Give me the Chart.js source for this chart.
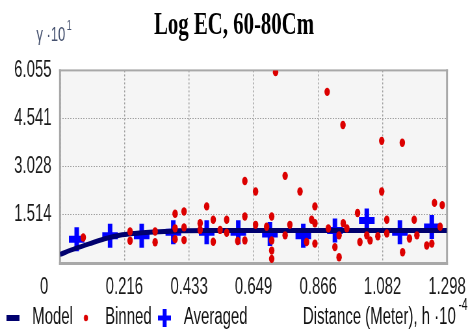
<!DOCTYPE html>
<html>
<head>
<meta charset="utf-8">
<script src="https://cdn.jsdelivr.net/npm/chart.js"></script>
<style>
  html, body { margin: 0; padding: 0; background: #fff; overflow: hidden; width: 468px; height: 331px; }
  /* the original picture is squeezed sideways, so draw wide and scale x */
  #wrap { width: 720px; height: 331px; transform: scale(0.65, 1); transform-origin: 0 0; }
</style>
</head>
<body>
<div id="wrap"><canvas id="chart"></canvas></div>
<script>
const xTicks = [0, 0.216, 0.433, 0.649, 0.866, 1.082, 1.298];
const xTickLabels = ["0", "0.216", "0.433", "0.649", "0.866", "1.082", "1.298"];
const yTicks = [0, 1.514, 3.028, 4.541, 6.055];
const yTickLabels = ["", "1.514", "3.028", "4.541", "6.055"];

const modelX = [0, 0.05, 0.1, 0.15, 0.2, 0.25, 0.3, 0.35, 0.4, 0.5, 0.65, 0.9, 1.298];
const modelY = [0.27, 0.45, 0.61, 0.76, 0.87, 0.93, 0.97, 0.99, 1.01, 1.02, 1.02, 1.02, 1.02];

const binnedX = [0.078, 0.235, 0.235, 0.319, 0.319, 0.386, 0.386, 0.386, 0.416, 0.416, 0.416,
  0.47, 0.47, 0.492, 0.514, 0.514, 0.537, 0.559, 0.559, 0.596, 0.62, 0.62, 0.62, 0.656, 0.656,
  0.693, 0.71, 0.71, 0.71, 0.71, 0.723, 0.755, 0.755, 0.771, 0.805, 0.827, 0.844, 0.855, 0.855,
  0.855, 0.896, 0.9, 0.922, 0.936, 0.936, 0.949, 0.95, 0.962, 0.998, 1.006, 1.029, 1.04, 1.066,
  1.079, 1.079, 1.096, 1.096, 1.148, 1.149, 1.172, 1.188, 1.197, 1.23, 1.247, 1.256, 1.275, 1.282];
const binnedY = [0.8, 0.99, 0.7, 0.99, 0.65, 1.55, 1.09, 0.75, 1.62, 1.12, 0.72,
  1.25, 1.04, 1.78, 1.36, 0.67, 1.04, 1.36, 0.95, 0.69, 2.58, 1.46, 0.71, 2.25, 1.2,
  1.14, 1.46, 0.71, 0.39, 0.13, 6.0, 2.74, 0.87, 1.2, 2.25, 0.66, 1.36, 1.78, 1.25,
  0.61, 5.38, 1.09, 0.5, 0.18, 0.87, 4.34, 1.25, 1.09, 1.57, 0.66, 0.87, 0.71, 0.84,
  3.84, 2.25, 1.36, 0.93, 3.78, 0.34, 0.77, 1.36, 0.87, 0.55, 0.61, 1.89, 1.14, 1.82];

const averagedX = [0.056, 0.168, 0.274, 0.38, 0.492, 0.598, 0.704, 0.816, 0.922, 1.029, 1.14, 1.247];
const averagedY = [0.75, 0.86, 0.86, 0.97, 0.97, 0.97, 0.91, 0.86, 1.02, 1.34, 0.97, 1.13];

const seriesNames = ["Model", "Binned", "Averaged"];

function toPoints(xs, ys) {
  return xs.map((x, i) => ({ x: x, y: ys[i] }));
}

// small pictures for the legend markers
function makeIcon(w, h, paint) {
  const c = document.createElement("canvas");
  c.width = w;
  c.height = h;
  paint(c.getContext("2d"), w, h);
  return c;
}
const legendIcons = [
  makeIcon(20, 6, (g, w, h) => { g.fillStyle = "#00006e"; g.fillRect(0, 0, w, h); }),
  makeIcon(8, 8, (g) => { g.fillStyle = "#dc0000"; g.beginPath(); g.arc(4, 4, 3.2, 0, Math.PI * 2); g.fill(); }),
  makeIcon(20, 18, (g) => { g.fillStyle = "#0000ff"; g.fillRect(7, 0, 6, 18); g.fillRect(0, 6.5, 20, 5); }),
];

const frameAndText = {
  id: "frameAndText",
  afterLayout(chart) {
    // legend shares its row with the x unit text, pin it there
    const lg = chart.legend;
    const dy = 304.5 - lg.top;
    lg.top += dy;
    lg.bottom += dy;
  },
  beforeDraw(chart) {
    const { ctx, chartArea: a } = chart;
    ctx.save();
    ctx.fillStyle = "#f5f5f5";
    ctx.fillRect(a.left, a.top, a.right - a.left, a.bottom - a.top);
    ctx.restore();
  },
  beforeDatasetsDraw(chart) {
    const { ctx, chartArea: a } = chart;
    ctx.save();
    ctx.fillStyle = "#a8a8a8";
    ctx.fillRect(a.left - 1.5, a.top - 1, a.right - a.left + 3, 2);
    ctx.fillRect(a.left - 1.5, a.bottom - 1, a.right - a.left + 3, 3);
    ctx.fillRect(a.left - 1.5, a.top - 1, 3, a.bottom - a.top + 3);
    ctx.fillRect(a.right - 1.5, a.top - 1, 3, a.bottom - a.top + 3);
    ctx.restore();
  },
  afterDraw(chart) {
    const { ctx, chartArea: a } = chart;
    ctx.save();
    ctx.textBaseline = "alphabetic";
    ctx.textAlign = "left";

    // y unit, top left
    ctx.fillStyle = "#46526f";
    ctx.font = "20px 'Liberation Sans'";
    ctx.fillText("γ ·10", 56, 41);
    const w1 = ctx.measureText("γ ·10").width;
    ctx.font = "14px 'Liberation Sans'";
    ctx.fillText("1", 56 + w1 + 2, 30);

    // origin label
    ctx.fillStyle = "#1a1a1a";
    ctx.font = "23px 'Liberation Sans'";
    ctx.textAlign = "center";
    ctx.textBaseline = "middle";
    ctx.fillText(xTickLabels[0], 68, a.bottom + 11 + 13.8);

    // x unit, bottom right
    ctx.textAlign = "left";
    ctx.textBaseline = "alphabetic";
    ctx.fillStyle = "#111";
    ctx.fillText("Distance (Meter), h ·10", 466, 324);
    const w2 = ctx.measureText("Distance (Meter), h ·10").width;
    ctx.font = "16px 'Liberation Sans'";
    ctx.fillText("-4", 466 + w2 + 4, 310);
    ctx.restore();
  },
};

const tickFont = { family: "'Liberation Sans', Arial, sans-serif", size: 23 };

new Chart(document.getElementById("chart"), {
  type: "scatter",
  data: {
    datasets: [
      {
        type: "line",
        label: seriesNames[0],
        data: toPoints(modelX, modelY),
        borderColor: "#00006e",
        borderWidth: 5,
        pointRadius: 0,
        cubicInterpolationMode: "monotone",
        fill: false,
        order: 1,
      },
      {
        label: seriesNames[1],
        data: toPoints(binnedX, binnedY),
        pointStyle: "circle",
        pointRadius: 4.2,
        pointBorderWidth: 0,
        backgroundColor: "#dc0000",
        borderColor: "#dc0000",
        order: 0,
      },
      {
        label: seriesNames[2],
        data: toPoints(averagedX, averagedY),
        pointStyle: "cross",
        pointRadius: 12,
        pointBorderWidth: 7,
        borderColor: "#0000ff",
        backgroundColor: "#0000ff",
        order: 2,
      },
    ],
  },
  options: {
    responsive: true,
    maintainAspectRatio: false,
    animation: false,
    events: [],
    layout: { padding: { top: 0, left: 0, right: 0, bottom: -16.6 } },
    scales: {
      x: {
        type: "linear",
        min: xTicks[0],
        max: xTicks[xTicks.length - 1],
        afterBuildTicks: (axis) => { axis.ticks = xTicks.map((v) => ({ value: v })); },
        afterFit: (axis) => { axis.paddingRight = 32.3; },
        ticks: {
          autoSkip: false,
          maxRotation: 0,
          padding: 11,
          color: "#1a1a1a",
          font: tickFont,
          callback: (value, index) => (index === 0 ? "" : xTickLabels[index]),
        },
        grid: { color: "#a0a0a0", lineWidth: 1.5, drawTicks: false },
        border: { display: false, dash: [2, 2] },
      },
      y: {
        type: "linear",
        min: yTicks[0],
        max: yTicks[yTicks.length - 1],
        afterBuildTicks: (axis) => { axis.ticks = yTicks.map((v) => ({ value: v })); },
        afterFit: (axis) => { axis.width = 92.3; },
        ticks: {
          autoSkip: false,
          padding: 13,
          color: "#1a1a1a",
          font: tickFont,
          callback: (value, index) => yTickLabels[index],
        },
        grid: { color: "#a0a0a0", lineWidth: 1, drawTicks: false },
        border: { display: false, dash: [2, 2] },
      },
    },
    plugins: {
      title: {
        display: true,
        text: "Log EC, 60-80Cm",
        color: "#000",
        font: { family: "'Liberation Serif', 'Times New Roman', serif", size: 32, weight: "bold" },
        padding: { top: 7, bottom: 25 },
      },
      legend: {
        position: "bottom",
        align: "start",
        labels: {
          usePointStyle: true,
          pointStyleWidth: 36,
          boxHeight: 23,
          padding: 2,
          color: "#111",
          font: tickFont,
          generateLabels(chart) {
            const items = Chart.defaults.plugins.legend.labels.generateLabels(chart);
            items.forEach((it) => { it.pointStyle = legendIcons[it.datasetIndex]; });
            return items;
          },
          sort: (a, b) => a.datasetIndex - b.datasetIndex,
        },
      },
      tooltip: { enabled: false },
    },
  },
  plugins: [frameAndText],
});
</script>
</body>
</html>
